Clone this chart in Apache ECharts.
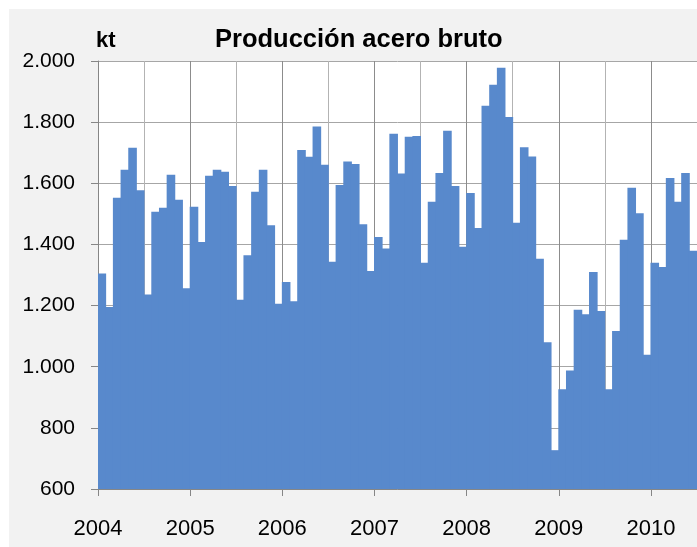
<!DOCTYPE html>
<html>
<head>
<meta charset="utf-8">
<script src="https://cdn.jsdelivr.net/npm/echarts@6/dist/echarts.min.js"></script>
<style>
  html, body { margin: 0; padding: 0; background: #ffffff; }
  #chart {
    width: 697px; height: 547px;
    background: linear-gradient(#f2f2f2, #f2f2f2) no-repeat 9px 9px / 688px 538px, #ffffff;
  }
</style>
</head>
<body>
<div id="chart"></div>
<script>
// ---- data ----
const years = ['2004', '2005', '2006', '2007', '2008', '2009', '2010'];
const monthLabels = ['01','02','03','04','05','06','07','08','09','10','11','12'];
const prod2004 = [1305, 1195, 1553, 1644, 1716, 1577, 1236, 1507, 1520, 1628, 1546, 1257];
const prod2005 = [1523, 1408, 1625, 1644, 1638, 1591, 1219, 1365, 1572, 1644, 1463, 1206];
const prod2006 = [1277, 1214, 1709, 1687, 1786, 1661, 1343, 1594, 1671, 1663, 1466, 1313];
const prod2007 = [1424, 1387, 1762, 1632, 1752, 1755, 1340, 1540, 1634, 1772, 1591, 1392];
const prod2008 = [1568, 1454, 1854, 1922, 1978, 1817, 1471, 1718, 1688, 1353, 1080, 727];
const prod2009 = [926, 988, 1186, 1172, 1310, 1182, 926, 1117, 1415, 1585, 1502, 1039];
const prod2010 = [1340, 1326, 1617, 1540, 1634, 1379];
const yTicks = [600, 800, 1000, 1200, 1400, 1600, 1800, 2000];
const titleText = 'Producción acero bruto';
const unitText = 'kt';

// ---- build ----
const yearly = [prod2004, prod2005, prod2006, prod2007, prod2008, prod2009, prod2010];
const categories = [];
const values = [];
yearly.forEach((arr, yi) => {
  arr.forEach((v, mi) => {
    categories.push(years[yi] + '-' + monthLabels[mi]);
    values.push(v);
  });
});
const nCat = categories.length;

function fmtThousands(v) {
  return String(v).replace(/\B(?=(\d{3})+(?!\d))/g, '.');
}

const FONT = 'Liberation Sans';
const BAR = '#5889cc';
const chart = echarts.init(document.getElementById('chart'), null, { renderer: 'canvas' });
chart.setOption({
  backgroundColor: 'transparent',
  animation: false,
  title: {
    text: titleText,
    left: 215,
    top: 27,
    padding: 0,
    textStyle: { fontFamily: FONT, fontSize: 25.5, fontWeight: 'bold', color: '#000' }
  },
  grid: {
    left: 98, right: 0, top: 61, bottom: 58,
    show: true, backgroundColor: '#ffffff', borderWidth: 0
  },
  xAxis: [
    {
      type: 'category',
      data: categories,
      position: 'bottom',
      boundaryGap: true,
      axisLine: { show: true, lineStyle: { color: '#868686', width: 1 } },
      axisTick: {
        show: true, length: 7, alignWithLabel: false,
        interval: (i) => i % 12 === 0,
        lineStyle: { color: '#868686' }
      },
      axisLabel: { show: false },
      splitLine: { show: false }
    },
    {
      type: 'value',
      position: 'bottom',
      min: 0,
      max: nCat,
      interval: 6,
      axisLine: { show: false },
      axisTick: { show: false },
      axisLabel: {
        show: true,
        showMaxLabel: false,
        margin: 29,
        fontFamily: FONT,
        fontSize: 22,
        color: '#000',
        formatter: (v) => (v % 12 === 0 && years[v / 12]) ? years[v / 12] : ''
      },
      splitLine: { show: true, lineStyle: { color: ['#8c8c8c', '#b3b3b3'], width: 1 } }
    }
  ],
  yAxis: {
    type: 'value',
    min: yTicks[0],
    max: yTicks[yTicks.length - 1],
    interval: yTicks[1] - yTicks[0],
    name: unitText,
    nameLocation: 'end',
    nameGap: 9,
    nameTextStyle: { fontFamily: FONT, fontSize: 22, fontWeight: 'bold', color: '#000', align: 'left', padding: [0, 0, 0, -2] },
    axisLine: { show: true, lineStyle: { color: '#868686' } },
    axisTick: { show: true, length: 7, lineStyle: { color: '#868686' } },
    axisLabel: {
      margin: 23, fontFamily: FONT, fontSize: 21, color: '#000',
      formatter: (v) => fmtThousands(v)
    },
    splitLine: { show: true, lineStyle: { color: '#a6a6a6', width: 1 } }
  },
  series: [{
    type: 'bar',
    xAxisIndex: 0,
    data: values,
    barWidth: '112%',
    itemStyle: { color: BAR },
    emphasis: { disabled: true }
  }]
});
</script>
</body>
</html>
